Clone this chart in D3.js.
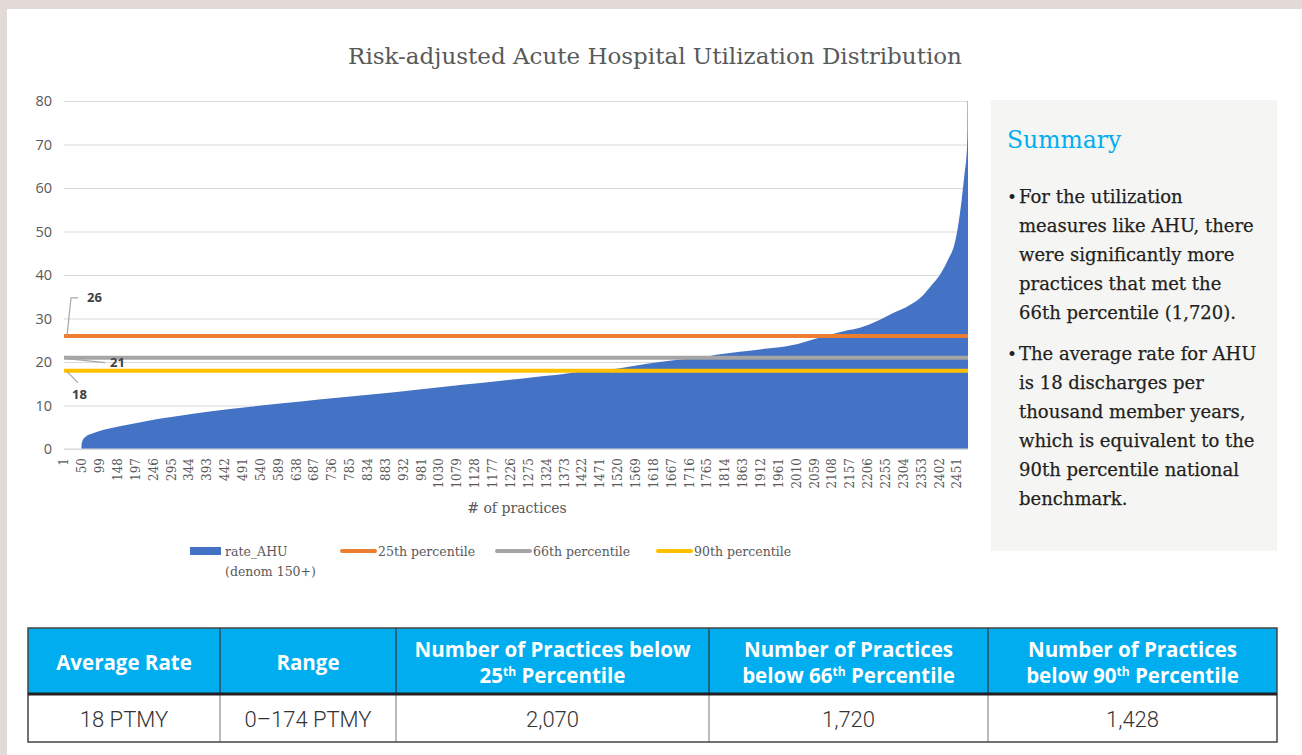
<!DOCTYPE html>
<html>
<head>
<meta charset="utf-8">
<script src="https://cdn.jsdelivr.net/npm/d3@7"></script>
<style>
  body { margin: 0; background: #e2dad6; }
  svg { display: block; }
</style>
</head>
<body>
<div id="chart"></div>
<script>
// practices sorted by rate, 1..N
const practiceCount = 2480
const samplePractice = [1, 48, 49, 52, 60, 80, 100, 150, 200, 250, 300, 400, 500, 600, 700, 800, 900, 1000,
  1100, 1200, 1300, 1400, 1428, 1500, 1600, 1690, 1745, 1800, 1909, 2000, 2055, 2107, 2150, 2184, 2239,
  2274, 2321, 2353, 2376, 2403, 2425, 2444, 2453, 2463, 2472, 2476, 2478, 2479, 2480]
const sampleRate = [0, 0, 1.2, 2.0, 2.8, 3.6, 4.2, 5.2, 6.0, 6.8, 7.4, 8.6, 9.6, 10.5, 11.4, 12.2, 13.0, 13.9,
  14.8, 15.7, 16.6, 17.6, 18.0, 18.3, 19.6, 20.6, 21.0, 21.8, 22.9, 23.9, 25.2, 26.4, 27.3, 27.9, 29.7,
  31.2, 33.1, 35.0, 37.2, 40.0, 43.4, 47.3, 51.1, 57.2, 64, 67, 70, 74, 174]

const percentileNames = ['25th percentile', '66th percentile', '90th percentile']
const percentileValues = [26, 21, 18]
const percentileColors = ['#ed7d31', '#a5a5a5', '#ffc000']

const yTicks = [0, 10, 20, 30, 40, 50, 60, 70, 80]

const summaryTitle = 'Summary'
const summaryBullets = [
  ['For the utilization', 'measures like AHU, there', 'were significantly more',
    'practices that met the', '66th percentile (1,720).'],
  ['The average rate for AHU', 'is 18 discharges per', 'thousand member years,',
    'which is equivalent to the', '90th percentile national', 'benchmark.']
]

const tableHeaders = [
  [['Average Rate']],
  [['Range']],
  [['Number of Practices below'], ['25', 'th', ' Percentile']],
  [['Number of Practices'], ['below 66', 'th', ' Percentile']],
  [['Number of Practices'], ['below 90', 'th', ' Percentile']]
]
const tableValues = ['18 PTMY', '0\u2013174 PTMY', '2,070', '1,720', '1,428']

const W = 1302
const H = 755
const plot = { left: 64, right: 968, top: 101, bottom: 449 }
const serif = 'DejaVu Serif, serif'

const svg = d3.select('#chart').append('svg')
  .attr('width', W)
  .attr('height', H)

svg.append('rect')
  .attr('x', 7).attr('y', 9)
  .attr('width', W - 7).attr('height', H - 9)
  .attr('fill', '#fff')

const practices = d3.range(1, practiceCount + 1)

const xPositionScale = d3.scaleBand()
  .domain(practices)
  .range([plot.left, plot.right])

const yPositionScale = d3.scaleLinear()
  .domain([0, 80])
  .range([plot.bottom, plot.top])

// title
svg.append('text')
  .attr('x', 655).attr('y', 64)
  .attr('text-anchor', 'middle')
  .style('font-family', serif)
  .style('font-size', '23px')
  .attr('fill', '#595959')
  .text('Risk-adjusted Acute Hospital Utilization Distribution')

// gridlines + y labels
const yAxis = d3.axisLeft(yPositionScale)
  .tickValues(yTicks)
  .tickSize(-(plot.right - plot.left))
  .tickPadding(12)

const yG = svg.append('g')
  .attr('class', 'axis y-axis')
  .attr('transform', 'translate(' + plot.left + ',0)')
  .call(yAxis)
yG.select('.domain').remove()
yG.selectAll('line').attr('stroke', '#d9d9d9')
yG.selectAll('text')
  .attr('fill', '#595959')
  .style('font-family', 'Open Sans, sans-serif')
  .style('font-size', '14.5px')

// distribution
svg.append('clipPath').attr('id', 'plot-clip')
  .append('rect')
  .attr('x', plot.left).attr('y', plot.top)
  .attr('width', plot.right - plot.left).attr('height', plot.bottom - plot.top)

const distribution = samplePractice.map((p, i) => ({ practice: p, rate: sampleRate[i] }))
const bw = xPositionScale.bandwidth()

const area = d3.area()
  .x((d, i) => {
    if (i === 0) return xPositionScale(d.practice)
    if (i === distribution.length - 1) return xPositionScale(d.practice) + bw
    return xPositionScale(d.practice) + bw / 2
  })
  .y0(yPositionScale(0))
  .y1(d => yPositionScale(d.rate))
  .curve(d3.curveMonotoneX)

svg.append('path')
  .datum(distribution)
  .attr('clip-path', 'url(#plot-clip)')
  .attr('fill', '#4472c4')
  .attr('d', area)

// x axis labels
const tickPractices = practices.filter(p => (p - 1) % 49 === 0)
svg.append('line')
  .attr('x1', plot.left).attr('x2', plot.right)
  .attr('y1', plot.bottom).attr('y2', plot.bottom)
  .attr('stroke', '#d9d9d9')

svg.append('g')
  .selectAll('text')
  .data(tickPractices)
  .enter()
  .append('text')
  .attr('transform', d => 'translate(' + (xPositionScale(d) + bw / 2) + ',' + (plot.bottom + 9) + ') rotate(-90)')
  .attr('text-anchor', 'end')
  .attr('dy', '0.35em')
  .attr('fill', '#595959')
  .style('font-family', serif)
  .style('font-size', '12px')
  .text(d => d)

svg.append('text')
  .attr('x', (plot.left + plot.right) / 2 + 1).attr('y', 513)
  .attr('text-anchor', 'middle')
  .attr('fill', '#595959')
  .style('font-family', serif)
  .style('font-size', '14px')
  .text('# of practices')

// percentile lines
svg.append('g')
  .selectAll('line')
  .data(percentileValues)
  .enter()
  .append('line')
  .attr('x1', plot.left).attr('x2', plot.right)
  .attr('y1', d => yPositionScale(d)).attr('y2', d => yPositionScale(d))
  .attr('stroke', (d, i) => percentileColors[i])
  .attr('stroke-width', 4)

// data labels with leader lines
const labelOffsets = [
  { leader: [[3, 0], [7, -38], [14, -38]], tx: 23, ty: -38 },
  { leader: [[3, 1], [41, 5]], tx: 46, ty: 5 },
  { leader: [[3, 1], [14, 12]], tx: 8, ty: 24 }
]
percentileValues.forEach((v, i) => {
  const y0 = yPositionScale(v)
  const o = labelOffsets[i]
  svg.append('path')
    .attr('d', d3.line()(o.leader.map(p => [plot.left + p[0], y0 + p[1]])))
    .attr('fill', 'none')
    .attr('stroke', '#a6a6a6')
    .attr('stroke-width', 1.2)
  svg.append('text')
    .attr('x', plot.left + o.tx).attr('y', y0 + o.ty)
    .attr('dy', '0.35em')
    .attr('fill', '#404040')
    .style('font-family', 'Open Sans, sans-serif')
    .style('font-weight', 'bold')
    .style('font-size', '13px')
    .text(v)
})

// legend
const legend = svg.append('g').style('font-family', serif).style('font-size', '12.5px')
legend.append('rect')
  .attr('x', 190).attr('y', 547).attr('width', 31).attr('height', 8)
  .attr('fill', '#4472c4')
legend.append('text').attr('x', 225).attr('y', 556).attr('fill', '#595959').text('rate_AHU')
legend.append('text').attr('x', 225).attr('y', 576).attr('fill', '#595959').text('(denom 150+)')

const legendX = [342, 497, 658]
percentileNames.forEach((name, i) => {
  legend.append('line')
    .attr('x1', legendX[i]).attr('x2', legendX[i] + 33)
    .attr('y1', 551).attr('y2', 551)
    .attr('stroke', percentileColors[i])
    .attr('stroke-width', 4)
    .attr('stroke-linecap', 'round')
  legend.append('text')
    .attr('x', legendX[i] + 36).attr('y', 556)
    .attr('fill', '#595959')
    .text(name)
})

// summary panel
const panel = svg.append('g')
panel.append('rect')
  .attr('x', 991).attr('y', 100).attr('width', 286).attr('height', 451)
  .attr('fill', '#f5f5f4')
panel.append('text')
  .attr('x', 1007).attr('y', 148)
  .attr('fill', '#00aeef')
  .style('font-family', serif)
  .style('font-size', '23.5px')
  .text(summaryTitle)

let lineY = 203
summaryBullets.forEach(lines => {
  panel.append('text')
    .attr('x', 1007).attr('y', lineY)
    .attr('fill', '#231f20')
    .style('font-family', serif)
    .style('font-size', '17px')
    .text('\u2022')
  lines.forEach(l => {
    panel.append('text')
      .attr('x', 1019).attr('y', lineY)
      .attr('fill', '#231f20')
      .attr('stroke', '#231f20')
      .attr('stroke-width', 0.25)
      .style('font-family', serif)
      .style('font-size', '18px')
      .text(l)
    lineY += 29
  })
  lineY += 12
})

// table
const colEdges = [28, 220, 396, 709, 988, 1277]
const tTop = 628
const tMid = 694
const tBot = 742
const table = svg.append('g')

table.append('rect')
  .attr('x', colEdges[0]).attr('y', tTop)
  .attr('width', colEdges[5] - colEdges[0]).attr('height', tMid - tTop)
  .attr('fill', '#00aeef')

tableHeaders.forEach((rows, i) => {
  const cx = (colEdges[i] + colEdges[i + 1]) / 2
  const baseY = rows.length === 1 ? [670] : [657, 683]
  rows.forEach((parts, r) => {
    const t = table.append('text')
      .attr('x', cx).attr('y', baseY[r])
      .attr('text-anchor', 'middle')
      .attr('fill', '#fff')
      .style('font-family', 'Open Sans, sans-serif')
      .style('font-weight', 'bold')
      .style('font-size', '20.5px')
    parts.forEach((p, k) => {
      const s = t.append('tspan').text(p)
      if (k === 1) s.attr('dy', -7).style('font-size', '12px')
      if (k === 2) s.attr('dy', 7)
    })
  })
})

tableValues.forEach((v, i) => {
  table.append('text')
    .attr('x', (colEdges[i] + colEdges[i + 1]) / 2).attr('y', 727)
    .attr('text-anchor', 'middle')
    .attr('fill', '#333')
    .style('font-family', 'Roboto, sans-serif')
    .style('font-weight', 300)
    .style('font-size', '22px')
    .text(v)
})

colEdges.slice(1, -1).forEach(x => {
  table.append('line')
    .attr('x1', x).attr('x2', x).attr('y1', tTop).attr('y2', tMid)
    .attr('stroke', '#333').attr('stroke-width', 1.2)
  table.append('line')
    .attr('x1', x).attr('x2', x).attr('y1', tMid).attr('y2', tBot)
    .attr('stroke', '#777').attr('stroke-width', 1)
})
table.append('rect')
  .attr('x', colEdges[0]).attr('y', tTop)
  .attr('width', colEdges[5] - colEdges[0]).attr('height', tBot - tTop)
  .attr('fill', 'none').attr('stroke', '#444').attr('stroke-width', 1.5)
table.append('line')
  .attr('x1', colEdges[0]).attr('x2', colEdges[5]).attr('y1', tMid).attr('y2', tMid)
  .attr('stroke', '#231f20').attr('stroke-width', 3)
</script>
</body>
</html>
